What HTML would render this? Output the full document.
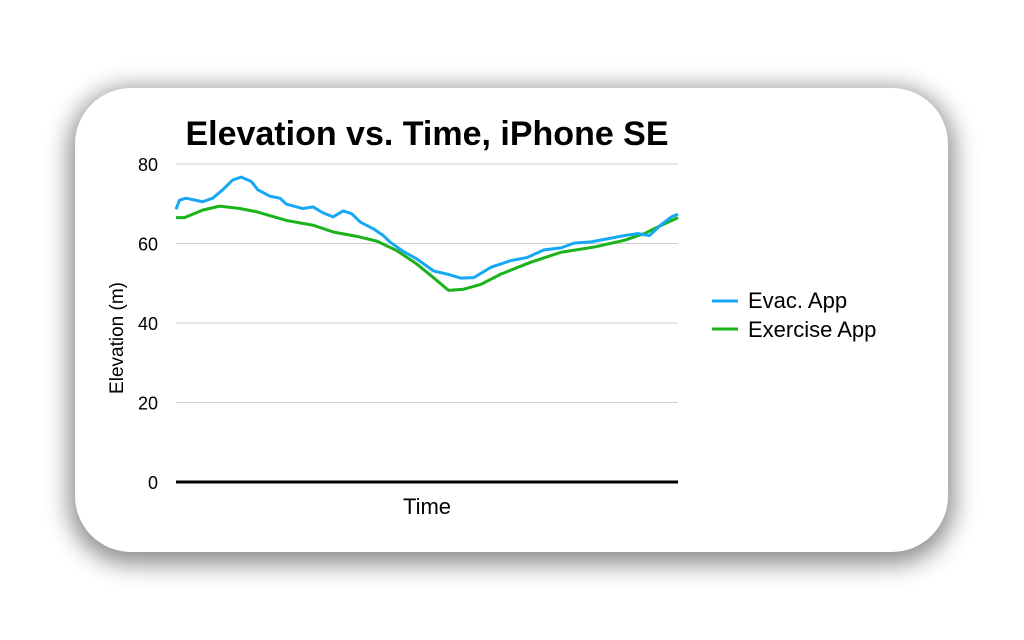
<!DOCTYPE html>
<html><head><meta charset="utf-8"><style>
body{margin:0;width:1024px;height:640px;background:#fff;overflow:hidden;font-family:"Liberation Sans",sans-serif}
#card{position:absolute;left:75px;top:88px;width:873px;height:464px;border-radius:56px;background:#fff;box-shadow:0 6px 24px 6px rgba(0,0,0,0.45)}
svg{position:absolute;left:0;top:0}
</style></head><body>
<div id="card"></div>
<svg width="1024" height="640">
<text x="427" y="145" text-anchor="middle" font-size="34" font-weight="bold" fill="#000">Elevation vs. Time, iPhone SE</text>
<g id="grid"></g>
<g id="series"></g>
<text transform="translate(123,338) rotate(-90)" text-anchor="middle" font-size="19">Elevation (m)</text>
<text x="427" y="514" text-anchor="middle" font-size="22">Time</text>
<g>
<line x1="712" y1="301" x2="738" y2="301" stroke="#16a7f5" stroke-width="3"/>
<text x="748" y="308" font-size="22">Evac. App</text>
<line x1="712" y1="329" x2="738" y2="329" stroke="#1bb31b" stroke-width="3"/>
<text x="748" y="337" font-size="22">Exercise App</text>
</g>
</svg>
<script>
const yTicks=[0,20,40,60,80];
const evacT=[0,0.7,2,5.3,7.3,9.3,11.3,13,15,16.3,18.7,20.7,22,25.3,27.3,29.3,31.3,33.3,35,36.7,39.3,41.3,42.7,45.3,48,51.3,54,56.7,59.3,62.7,66.7,70,73.3,76.7,79.3,82.7,86,89.3,92,94.3,96.7,98.7,100];
const evacV=[68.6,70.9,71.4,70.5,71.4,73.5,76,76.7,75.6,73.5,71.9,71.4,69.9,68.8,69.2,67.7,66.7,68.2,67.5,65.4,63.7,62,60.3,58,56.1,53.1,52.3,51.3,51.4,54,55.7,56.5,58.4,58.9,60.1,60.4,61.2,62,62.5,62,64.8,66.7,67.4];
const exT=[0,1.7,5.3,8.7,12.7,16,22,27.3,31.3,36,40,44,48,51.3,54.3,57.3,60.7,64.7,70.7,76.7,83.3,89.3,93.3,96.7,100];
const exV=[66.5,66.5,68.4,69.4,68.8,68,65.8,64.6,62.9,61.8,60.6,58.2,54.8,51.4,48.2,48.5,49.7,52.3,55.3,57.8,59.1,60.8,62.5,64.6,66.5];
const X0=176,X1=678,Y0=482,Y1=164;
const xs=t=>X0+(X1-X0)*t/100, ys=v=>Y0-(Y0-Y1)*v/80;
const NS="http://www.w3.org/2000/svg";
const grid=document.getElementById('grid'), ser=document.getElementById('series');
yTicks.forEach(v=>{
 const l=document.createElementNS(NS,'line');
 l.setAttribute('x1',X0);l.setAttribute('x2',X1);l.setAttribute('y1',ys(v));l.setAttribute('y2',ys(v));
 l.setAttribute('stroke',v===0?'#000':'#d0d0d0');l.setAttribute('stroke-width',v===0?3:1);
 
 
 grid.appendChild(l);
 const t=document.createElementNS(NS,'text');
 t.setAttribute('x',158);t.setAttribute('y',ys(v)+7);t.setAttribute('text-anchor','end');t.setAttribute('font-size','18');
 t.textContent=v;
 
 
 grid.appendChild(t);
});
function line(T,V,c,name){
 const p=document.createElementNS(NS,'polyline');
 p.setAttribute('points',T.map((t,i)=>xs(t)+','+ys(V[i])).join(' '));
 p.setAttribute('fill','none');p.setAttribute('stroke',c);p.setAttribute('stroke-width',3);p.setAttribute('stroke-linejoin','round');
 
 
 ser.appendChild(p);
}
line(exT,exV,'#1bb31b','exercise-app-line');
line(evacT,evacV,'#16a7f5','evac-app-line');
</script>
</body></html>
